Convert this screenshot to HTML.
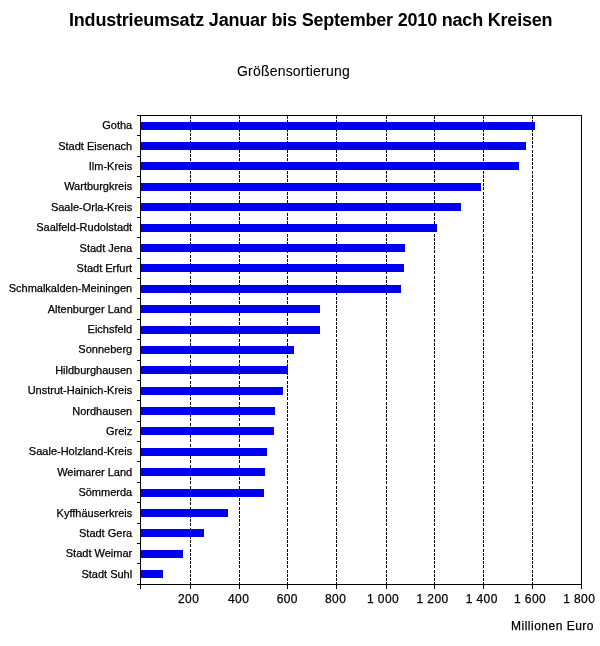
<!DOCTYPE html>
<html><head><meta charset="utf-8"><style>
html,body{margin:0;padding:0;background:#fff;}
body{width:600px;height:646px;overflow:hidden;position:relative;}
svg{position:absolute;left:0;top:0;}
text{font-family:"Liberation Sans",sans-serif;fill:#000;stroke:#000;stroke-width:0.25px;}
.txt{filter:grayscale(1);}
.title{font-size:18px;font-weight:bold;letter-spacing:-0.2px;stroke-width:0;}
.sub{font-size:14px;letter-spacing:0.2px;stroke-width:0.1px;}
.lab{font-size:11px;}
.xl{font-size:12px;letter-spacing:0.4px;}
.unit{font-size:12px;letter-spacing:0.5px;}
</style></head><body>
<svg width="600" height="646" viewBox="0 0 600 646" shape-rendering="crispEdges">
<g class="txt"><text x="69" y="26.3" class="title">Industrieumsatz Januar bis September 2010 nach Kreisen</text>
<text x="237" y="75.6" class="sub">Größensortierung</text></g>
<line x1="190.5" y1="116" x2="190.5" y2="584" stroke="#000" stroke-width="1" stroke-dasharray="3,1.2"/>
<line x1="239.5" y1="116" x2="239.5" y2="584" stroke="#000" stroke-width="1" stroke-dasharray="3,1.2"/>
<line x1="287.5" y1="116" x2="287.5" y2="584" stroke="#000" stroke-width="1" stroke-dasharray="3,1.2"/>
<line x1="336.5" y1="116" x2="336.5" y2="584" stroke="#000" stroke-width="1" stroke-dasharray="3,1.2"/>
<line x1="386.5" y1="116" x2="386.5" y2="584" stroke="#000" stroke-width="1" stroke-dasharray="3,1.2"/>
<line x1="434.5" y1="116" x2="434.5" y2="584" stroke="#000" stroke-width="1" stroke-dasharray="3,1.2"/>
<line x1="483.5" y1="116" x2="483.5" y2="584" stroke="#000" stroke-width="1" stroke-dasharray="3,1.2"/>
<line x1="532.5" y1="116" x2="532.5" y2="584" stroke="#000" stroke-width="1" stroke-dasharray="3,1.2"/>
<rect x="141" y="121.69" width="393.60" height="8" fill="#0000f0"/>
<rect x="141" y="142.07" width="384.60" height="8" fill="#0000f0"/>
<rect x="141" y="162.45" width="378.10" height="8" fill="#0000f0"/>
<rect x="141" y="182.83" width="340.30" height="8" fill="#0000f0"/>
<rect x="141" y="203.21" width="319.60" height="8" fill="#0000f0"/>
<rect x="141" y="223.60" width="296.00" height="8" fill="#0000f0"/>
<rect x="141" y="243.98" width="264.10" height="8" fill="#0000f0"/>
<rect x="141" y="264.36" width="263.10" height="8" fill="#0000f0"/>
<rect x="141" y="284.74" width="259.60" height="8" fill="#0000f0"/>
<rect x="141" y="305.12" width="178.90" height="8" fill="#0000f0"/>
<rect x="141" y="325.50" width="178.90" height="8" fill="#0000f0"/>
<rect x="141" y="345.88" width="152.60" height="8" fill="#0000f0"/>
<rect x="141" y="366.26" width="146.80" height="8" fill="#0000f0"/>
<rect x="141" y="386.64" width="141.60" height="8" fill="#0000f0"/>
<rect x="141" y="407.02" width="133.80" height="8" fill="#0000f0"/>
<rect x="141" y="427.41" width="132.90" height="8" fill="#0000f0"/>
<rect x="141" y="447.79" width="126.10" height="8" fill="#0000f0"/>
<rect x="141" y="468.17" width="123.80" height="8" fill="#0000f0"/>
<rect x="141" y="488.55" width="122.80" height="8" fill="#0000f0"/>
<rect x="141" y="508.93" width="86.50" height="8" fill="#0000f0"/>
<rect x="141" y="529.31" width="62.90" height="8" fill="#0000f0"/>
<rect x="141" y="549.69" width="42.30" height="8" fill="#0000f0"/>
<rect x="141" y="570.07" width="22.30" height="8" fill="#0000f0"/>
<line x1="137" y1="115.5" x2="581.5" y2="115.5" stroke="#000"/>
<line x1="137" y1="584.5" x2="581.5" y2="584.5" stroke="#000"/>
<line x1="140.5" y1="115" x2="140.5" y2="589" stroke="#000"/>
<line x1="581.5" y1="115" x2="581.5" y2="589" stroke="#000"/>
<line x1="137" y1="135.5" x2="140" y2="135.5" stroke="#000"/>
<line x1="137" y1="156.5" x2="140" y2="156.5" stroke="#000"/>
<line x1="137" y1="176.5" x2="140" y2="176.5" stroke="#000"/>
<line x1="137" y1="197.5" x2="140" y2="197.5" stroke="#000"/>
<line x1="137" y1="217.5" x2="140" y2="217.5" stroke="#000"/>
<line x1="137" y1="237.5" x2="140" y2="237.5" stroke="#000"/>
<line x1="137" y1="258.5" x2="140" y2="258.5" stroke="#000"/>
<line x1="137" y1="278.5" x2="140" y2="278.5" stroke="#000"/>
<line x1="137" y1="298.5" x2="140" y2="298.5" stroke="#000"/>
<line x1="137" y1="319.5" x2="140" y2="319.5" stroke="#000"/>
<line x1="137" y1="339.5" x2="140" y2="339.5" stroke="#000"/>
<line x1="137" y1="360.5" x2="140" y2="360.5" stroke="#000"/>
<line x1="137" y1="380.5" x2="140" y2="380.5" stroke="#000"/>
<line x1="137" y1="400.5" x2="140" y2="400.5" stroke="#000"/>
<line x1="137" y1="421.5" x2="140" y2="421.5" stroke="#000"/>
<line x1="137" y1="441.5" x2="140" y2="441.5" stroke="#000"/>
<line x1="137" y1="461.5" x2="140" y2="461.5" stroke="#000"/>
<line x1="137" y1="482.5" x2="140" y2="482.5" stroke="#000"/>
<line x1="137" y1="502.5" x2="140" y2="502.5" stroke="#000"/>
<line x1="137" y1="523.5" x2="140" y2="523.5" stroke="#000"/>
<line x1="137" y1="543.5" x2="140" y2="543.5" stroke="#000"/>
<line x1="137" y1="563.5" x2="140" y2="563.5" stroke="#000"/>
<line x1="190.5" y1="584" x2="190.5" y2="589" stroke="#000"/>
<line x1="239.5" y1="584" x2="239.5" y2="589" stroke="#000"/>
<line x1="287.5" y1="584" x2="287.5" y2="589" stroke="#000"/>
<line x1="336.5" y1="584" x2="336.5" y2="589" stroke="#000"/>
<line x1="386.5" y1="584" x2="386.5" y2="589" stroke="#000"/>
<line x1="434.5" y1="584" x2="434.5" y2="589" stroke="#000"/>
<line x1="483.5" y1="584" x2="483.5" y2="589" stroke="#000"/>
<line x1="532.5" y1="584" x2="532.5" y2="589" stroke="#000"/><g class="txt"><text x="132.2" y="129.29" text-anchor="end" class="lab">Gotha</text>
<text x="132.2" y="149.67" text-anchor="end" class="lab">Stadt Eisenach</text>
<text x="132.2" y="170.05" text-anchor="end" class="lab">Ilm-Kreis</text>
<text x="132.2" y="190.43" text-anchor="end" class="lab">Wartburgkreis</text>
<text x="132.2" y="210.81" text-anchor="end" class="lab">Saale-Orla-Kreis</text>
<text x="132.2" y="231.20" text-anchor="end" class="lab">Saalfeld-Rudolstadt</text>
<text x="132.2" y="251.58" text-anchor="end" class="lab">Stadt Jena</text>
<text x="132.2" y="271.96" text-anchor="end" class="lab">Stadt Erfurt</text>
<text x="132.2" y="292.34" text-anchor="end" class="lab">Schmalkalden-Meiningen</text>
<text x="132.2" y="312.72" text-anchor="end" class="lab">Altenburger Land</text>
<text x="132.2" y="333.10" text-anchor="end" class="lab">Eichsfeld</text>
<text x="132.2" y="353.48" text-anchor="end" class="lab">Sonneberg</text>
<text x="132.2" y="373.86" text-anchor="end" class="lab">Hildburghausen</text>
<text x="132.2" y="394.24" text-anchor="end" class="lab">Unstrut-Hainich-Kreis</text>
<text x="132.2" y="414.62" text-anchor="end" class="lab">Nordhausen</text>
<text x="132.2" y="435.01" text-anchor="end" class="lab">Greiz</text>
<text x="132.2" y="455.39" text-anchor="end" class="lab">Saale-Holzland-Kreis</text>
<text x="132.2" y="475.77" text-anchor="end" class="lab">Weimarer Land</text>
<text x="132.2" y="496.15" text-anchor="end" class="lab">Sömmerda</text>
<text x="132.2" y="516.53" text-anchor="end" class="lab">Kyffhäuserkreis</text>
<text x="132.2" y="536.91" text-anchor="end" class="lab">Stadt Gera</text>
<text x="132.2" y="557.29" text-anchor="end" class="lab">Stadt Weimar</text>
<text x="132.2" y="577.67" text-anchor="end" class="lab">Stadt Suhl</text>
<text x="178" y="603" class="xl">200</text>
<text x="228" y="603" class="xl">400</text>
<text x="276.7" y="603" class="xl">600</text>
<text x="325" y="603" class="xl">800</text>
<text x="367" y="603" class="xl">1 000</text>
<text x="416.5" y="603" class="xl">1 200</text>
<text x="465.7" y="603" class="xl">1 400</text>
<text x="514" y="603" class="xl">1 600</text>
<text x="563.2" y="603" class="xl">1 800</text></g>
<g class="txt"><text x="511" y="629.8" class="unit">Millionen Euro</text></g>
</svg>
</body></html>
